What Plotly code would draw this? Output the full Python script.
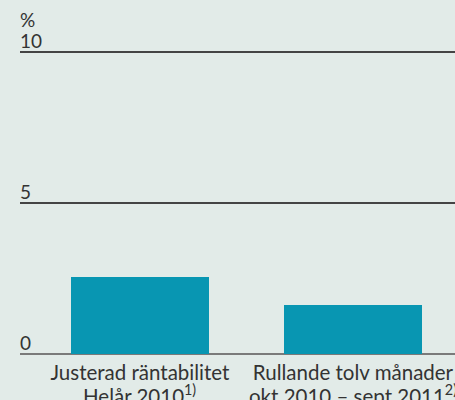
import plotly.graph_objects as go

cat_line1 = ["Justerad räntabilitet", "Rullande tolv månader"]
cat_line2 = ["Helår 2010<sup>1)</sup>", "okt 2010 – sept 2011<sup>2)</sup>"]
values = [2.56, 1.63]
y_ticks = [0, 5, 10]
y_ticklabels = ["0", "5", "10"]

bg = "#e2ebe8"
txt = "#333333"
FONT = "Lato"
x_pos = list(range(len(values)))

fig = go.Figure(go.Bar(x=x_pos, y=values, marker=dict(color="#0896b2", line=dict(width=0)),
                       width=0.648, hoverinfo="skip"))
fig.update_layout(
    width=455, height=400,
    margin=dict(l=20, r=0, t=22, b=46),
    paper_bgcolor=bg, plot_bgcolor=bg,
    showlegend=False,
    font=dict(family=FONT, color=txt, size=19),
    bargap=0,
)
fig.update_xaxes(range=[-0.563, 1.479], tickvals=x_pos, ticktext=cat_line1,
                 showgrid=False, zeroline=False, showline=False, ticks="",
                 ticklabelstandoff=4, tickangle=0,
                 tickfont=dict(family=FONT, size=20.5, color=txt), automargin=False, fixedrange=True)
fig.update_yaxes(range=[0, 11.0], tickvals=y_ticks, showticklabels=False,
                 showgrid=True, gridcolor="#444444", gridwidth=1.5,
                 zeroline=True, zerolinecolor="#7a7a7a", zerolinewidth=2,
                 showline=False, ticks="", automargin=False, fixedrange=True)
for v, lab in zip(y_ticks, y_ticklabels):
    fig.add_annotation(text=lab, x=0, xref="paper", y=v, yref="y", xanchor="left",
                       yanchor="bottom", yshift=-2, xshift=-2, showarrow=False,
                       font=dict(family=FONT, size=19, color=txt))
for xi, t in zip(x_pos, cat_line2):
    fig.add_annotation(text=t, x=xi, xref="x", y=0, yref="paper", yanchor="top",
                       yshift=-25, showarrow=False, font=dict(family=FONT, size=20.5, color=txt))
fig.add_annotation(text="%", xref="paper", yref="paper", x=0, y=1, xanchor="left",
                   yanchor="top", yshift=16, xshift=-2, showarrow=False,
                   font=dict(family=FONT, size=19, color=txt))
fig.write_html("out.html", config={"displayModeBar": False},
               post_script="document.body.style.margin='0';document.body.style.overflow='hidden';")
